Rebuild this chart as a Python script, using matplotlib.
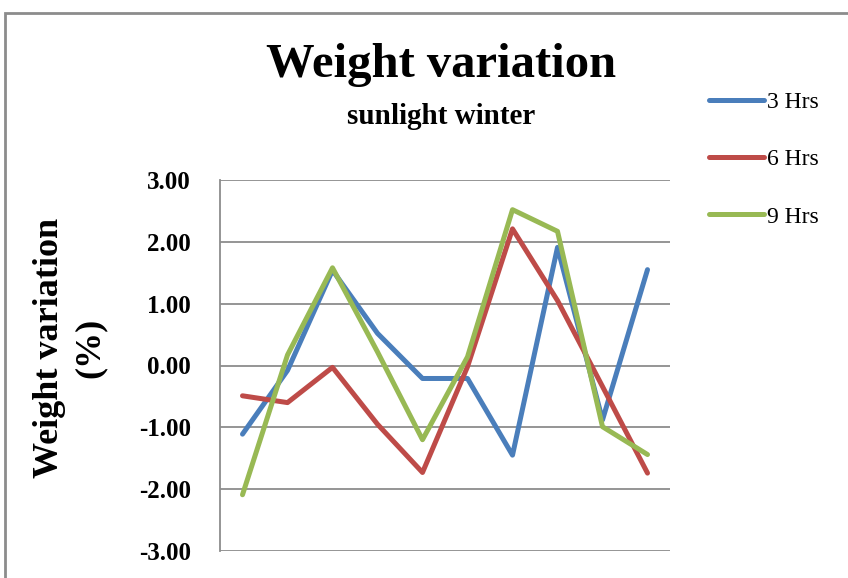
import matplotlib

matplotlib.use("Agg")
import matplotlib.pyplot as plt
from matplotlib.patches import Rectangle

# readings per sample (10 samples, no x labels in the original)
samples = list(range(1, 11))
hrs_3 = [-1.11, -0.08, 1.54, 0.52, -0.21, -0.21, -1.45, 1.91, -0.88, 1.55]
hrs_6 = [-0.49, -0.60, -0.03, -0.95, -1.73, -0.02, 2.21, 1.05, -0.34, -1.74]
hrs_9 = [-2.09, 0.17, 1.58, 0.22, -1.20, 0.14, 2.52, 2.17, -0.99, -1.44]
series_names = ["3 Hrs", "6 Hrs", "9 Hrs"]
colors = ["#4a7ebb", "#be4b48", "#98b954"]
y_ticks = [-3, -2, -1, 0, 1, 2, 3]

plt.rcParams["font.family"] = ["Liberation Serif", "DejaVu Serif"]

fig = plt.figure(figsize=(8.48, 5.78), dpi=100)
ax = fig.add_axes([220 / 848, 1 - 551 / 578, 450 / 848, 371 / 578])

for vals, name, c in zip([hrs_3, hrs_6, hrs_9], series_names, colors):
    ax.plot(samples, vals, color=c, lw=3.6, label=name, solid_capstyle="round")

ax.set_xlim(0.5, 10.5)
ax.set_ylim(-3, 3)
ax.set_yticks(y_ticks)
ax.set_yticklabels([f"{v:.2f}" for v in y_ticks], fontsize=18, fontweight="bold")
ax.set_xticks([])
ax.tick_params(axis="y", length=0, pad=21)
ax.grid(axis="y", color="#8c8c8c", lw=1.3)
ax.set_axisbelow(True)
for side in ["top", "right", "bottom"]:
    ax.spines[side].set_visible(False)
ax.spines["left"].set_color("#8c8c8c")
ax.spines["left"].set_linewidth(1.3)

fig.text(441 / 848, 1 - 65 / 578, "Weight variation", ha="center", va="center",
         fontsize=35, fontweight="bold")
fig.text(441 / 848, 1 - 117 / 578, "sunlight winter", ha="center", va="center",
         fontsize=21, fontweight="bold")
fig.text(50 / 848, 1 - 348 / 578, "Weight variation", ha="center", va="center",
         rotation=90, fontsize=26, fontweight="bold")
fig.text(90 / 848, 1 - 348 / 578, "(%)", ha="center", va="center",
         rotation=90, fontsize=26, fontweight="bold")

fig.legend(loc="upper left", bbox_to_anchor=(688 / 848, 1 - 70 / 578),
           frameon=False, fontsize=17, handlelength=2.3, handletextpad=0.15,
           labelspacing=1.52)

# outer chart border (cropped on the right and bottom in the original)
fig.patches.append(Rectangle((5 / 848, -0.1), 1.2, 1.1 - 13 / 578,
                             transform=fig.transFigure, fill=False,
                             edgecolor="#8c8c8c", lw=2))

fig.savefig("out.png", dpi=100)
